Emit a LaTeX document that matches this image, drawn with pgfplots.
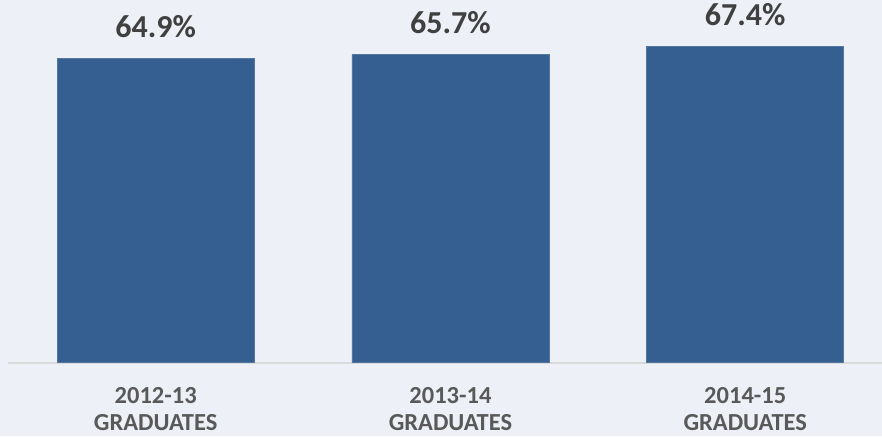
\documentclass[border=0pt]{standalone}
\usepackage{pgfplots}
\pgfplotsset{compat=1.18}
\usepackage{fontspec}
\setmainfont{Carlito}
\definecolor{bg}{HTML}{EDF1F7}
\definecolor{barc}{HTML}{365F91}
\definecolor{valc}{HTML}{404040}
\definecolor{tickc}{HTML}{595959}
\definecolor{basec}{HTML}{D9D9D9}
\begin{document}
\begin{tikzpicture}[x=1pt,y=1pt]
\fill[bg] (0,0) rectangle (882,436);
\begin{axis}[
  at={(8pt,73.5pt)}, anchor=south west,
  width=874pt, height=362.5pt, scale only axis,
  xmin=-0.501, xmax=2.464, ymin=0, ymax=77.34,
  hide y axis,
  axis x line*=bottom,
  x axis line style={draw=basec, line width=2pt, -},
  xtick={0,1,2},
  xticklabels={{2012-13\\GRADUATES},{2013-14\\GRADUATES},{2014-15\\GRADUATES}},
  xtick style={draw=none},
  xticklabel style={align=center, anchor=north, inner sep=0pt, yshift=-20pt,
    font=\fontsize{24.5}{27.5}\selectfont\bfseries, text=tickc},
  ybar, bar width=197pt, bar shift=0pt,
  clip=false,
  point meta=explicit symbolic,
  nodes near coords,
  every node near coord/.append style={anchor=base, inner sep=0pt, yshift=21pt,
    font=\fontsize{32}{36}\selectfont\bfseries, text=valc},
]
\addplot[fill=barc, draw=barc!85!white, line width=0.8pt] coordinates {
  (0,64.9) [64.9\%]
  (1,65.7) [65.7\%]
  (2,67.4) [67.4\%]
};
\end{axis}
\pgfresetboundingbox
\useasboundingbox (0,0) rectangle (882,436);
\end{tikzpicture}
\end{document}
